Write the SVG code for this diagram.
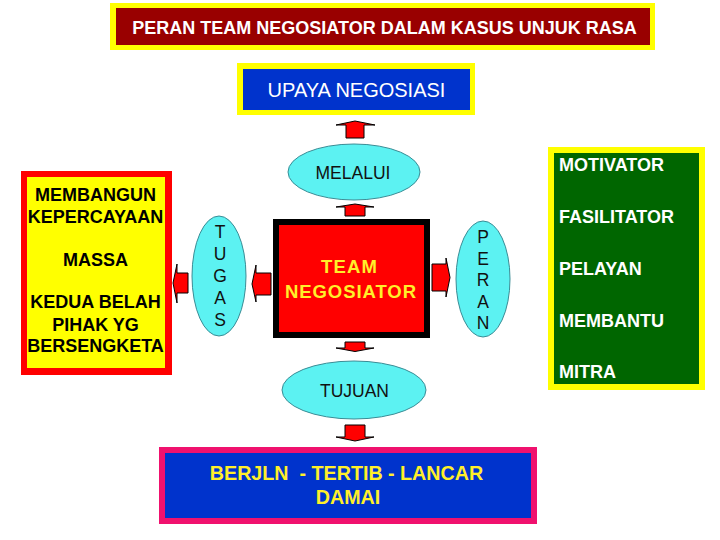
<svg xmlns="http://www.w3.org/2000/svg" width="720" height="540" viewBox="0 0 720 540">
<style>
text{font-family:"Liberation Sans",Arial,sans-serif}
.b{font-weight:bold}
.ell{fill:#5CF2F2;stroke:#3A8C95;stroke-width:1}
.arr{fill:#FF0000;stroke:#000;stroke-width:1;stroke-linejoin:miter}
.dk{fill:#111;font-size:17.5px}
.lt{fill:#000;font-size:18px;font-weight:bold}
.gt{fill:#fff;font-size:18px;font-weight:bold}
</style>
<rect width="720" height="540" fill="#fff"/>
<g id="title">
<rect x="110" y="3" width="545" height="47" fill="#FFFF00"/>
<rect x="116" y="8" width="534" height="37" fill="#990000"/>
<text x="384.5" y="34" text-anchor="middle" class="b" font-size="18" fill="#fff">PERAN TEAM NEGOSIATOR DALAM KASUS UNJUK RASA</text>
</g>
<g id="upaya">
<rect x="237" y="63" width="238" height="52" fill="#FFFF00"/>
<rect x="243" y="69" width="227" height="41" fill="#0033CC"/>
<text x="356.5" y="97" text-anchor="middle" font-size="20" fill="#fff">UPAYA NEGOSIASI</text>
</g>
<g id="melalui">
<ellipse class="ell" cx="354" cy="172" rx="66" ry="28"/>
<text x="353" y="179" text-anchor="middle" class="dk">MELALUI</text>
</g>
<g id="left-box">
<rect x="21" y="171" width="151" height="204" fill="#FF0000"/>
<rect x="27" y="177" width="138" height="191" fill="#FFFF00"/>
<g class="lt" text-anchor="middle">
<text x="95.5" y="201">MEMBANGUN</text>
<text x="95.5" y="223">KEPERCAYAAN</text>
<text x="95.5" y="266">MASSA</text>
<text x="95.5" y="308">KEDUA BELAH</text>
<text x="95.5" y="331">PIHAK YG</text>
<text x="95.5" y="352">BERSENGKETA</text>
</g>
</g>
<g id="tugas">
<ellipse class="ell" cx="219" cy="276" rx="27" ry="60"/>
<g class="dk" text-anchor="middle">
<text x="220" y="238">T</text>
<text x="220" y="260">U</text>
<text x="220" y="282">G</text>
<text x="220" y="304">A</text>
<text x="220" y="326">S</text>
</g>
</g>
<g id="team">
<rect x="273" y="219" width="157" height="119" fill="#000"/>
<rect x="279" y="225" width="145" height="107" fill="#FF0000"/>
<text x="349" y="273" text-anchor="middle" class="b" font-size="18.5" fill="#FFEF2A" textLength="56" lengthAdjust="spacing">TEAM</text>
<text x="350.5" y="298" text-anchor="middle" class="b" font-size="18.5" fill="#FFEF2A" textLength="131" lengthAdjust="spacing">NEGOSIATOR</text>
</g>
<g id="peran">
<ellipse class="ell" cx="483" cy="279" rx="27" ry="58"/>
<g class="dk" text-anchor="middle">
<text x="483" y="243">P</text>
<text x="483" y="264.5">E</text>
<text x="483" y="286">R</text>
<text x="483" y="307.5">A</text>
<text x="483" y="329">N</text>
</g>
</g>
<g id="right-box">
<rect x="548" y="147" width="157" height="243" fill="#FFFF00"/>
<rect x="554" y="153" width="145" height="231" fill="#006600"/>
<g class="gt">
<text x="559" y="171">MOTIVATOR</text>
<text x="559" y="223">FASILITATOR</text>
<text x="559" y="275">PELAYAN</text>
<text x="559" y="327">MEMBANTU</text>
<text x="559" y="378">MITRA</text>
</g>
</g>
<g id="tujuan">
<ellipse class="ell" cx="354" cy="390" rx="72" ry="29"/>
<text x="354.5" y="397" text-anchor="middle" class="dk">TUJUAN</text>
</g>
<g id="bottom-box">
<rect x="159" y="447" width="378" height="77" fill="#F0116E"/>
<rect x="165" y="453" width="366" height="65" fill="#0033CC"/>
<text x="346.5" y="480" text-anchor="middle" class="b" font-size="19.7" fill="#FFEF2A" style="white-space:pre">BERJLN  - TERTIB - LANCAR</text>
<text x="348" y="504" text-anchor="middle" class="b" font-size="19.7" fill="#FFEF2A">DAMAI</text>
</g>
<g id="connectors">
<polygon class="arr" points="336,125 355,121 375,125 364,125 364,138 346,138 346,125"/>
<polygon class="arr" points="336,207 355,204 374,207 365,207 365,216 345,216 345,207"/>
<polygon class="arr" points="345,342 365,342 365,348 374,348 355,351.5 336,348 345,348"/>
<polygon class="arr" points="345,425 365,425 365,437 374,437 355,441 336,437 345,437"/>
<polygon class="arr" points="188,273 188,293 177,293 177,303 173,283 177,264 177,273"/>
<polygon class="arr" points="271,273 271,295 256,295 256,302 252,284 256,265 256,273"/>
<polygon class="arr" points="432,264 446,264 446,258 450,277.5 446,297 446,291 432,291"/>
</g>
</svg>
